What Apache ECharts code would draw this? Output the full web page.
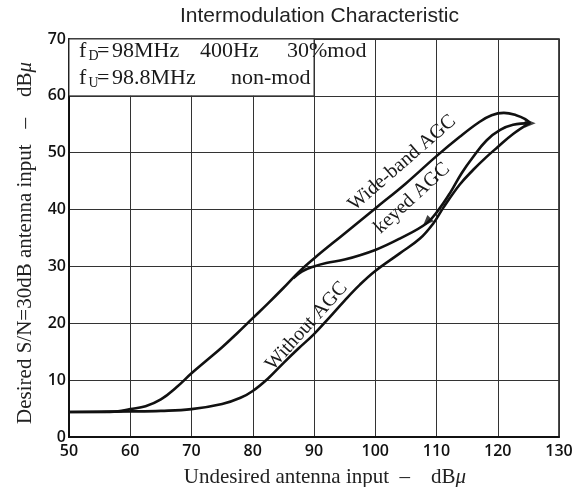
<!DOCTYPE html>
<html><head><meta charset="utf-8">
<script src="https://cdn.jsdelivr.net/npm/echarts@6/dist/echarts.min.js"></script>
<style>html,body{margin:0;padding:0;background:#fff}#c{width:578px;height:487px}</style>
</head><body><div id="c"></div>
<script>
// ---- data ----
const xMin = 50, xMax = 130, xStep = 10;
const yMin = 0, yMax = 70, yStep = 10;

const wideBand = [
  [50, 4.4], [55, 4.4], [58, 4.5], [60, 4.9], [62.5, 5.4], [65, 6.6], [67.5, 8.7],
  [70, 11.2], [72.5, 13.5], [75, 15.8], [77.5, 18.3], [80, 20.9], [82.5, 23.5],
  [85, 26.2], [87.5, 29.0], [90, 31.4], [95, 35.8], [100, 40.2], [105, 44.6],
  [110, 49.4], [113.8, 52.8], [117, 55.4], [119, 56.6], [121, 57.0], [123, 56.6],
  [124.5, 55.9], [125.3, 55.2]
];
const keyedAGC = [
  [86.6, 27.9], [88, 29.1], [90, 30.0], [92, 30.6], [95, 31.2], [100, 32.9],
  [104, 34.9], [108.4, 37.6], [110.3, 39.9], [112.2, 42.9], [114.1, 46.4],
  [116, 49.3], [118.2, 52.2], [120.4, 54.0], [122.5, 54.9], [125.3, 55.2]
];
const withoutAGC = [
  [50, 4.4], [60, 4.5], [65, 4.6], [70, 4.9], [75, 5.8], [78, 6.9], [80, 8.1],
  [82.5, 10.3], [85, 13.0], [87.5, 15.6], [90, 18.1], [92.5, 21.0], [95, 24.0],
  [97.5, 26.8], [100, 29.2], [104, 32.3], [107.3, 34.9], [109.5, 37.6], [111.1, 40.3],
  [113.8, 44.4], [116, 47.0], [118, 49.1], [120, 51.0], [122.5, 53.3], [125.3, 55.3]
];
const markerPoints = [[125.3, 55.2], [108.4, 37.8]];
const markerAngles = [-90, 135];

const titleText = 'Intermodulation Characteristic';
const xName = 'Undesired antenna input  \u2013    dB';
const yName = 'Desired S/N=30dB antenna input   \u2013    dB';
const condLine1 = ['f', 'D', '=', '98MHz', '400Hz', '30%mod'];
const condLine2 = ['f', 'U', '=', '98.8MHz', 'non-mod'];
const curveNames = ['Wide-band AGC', 'keyed AGC', 'Without AGC'];

// ---- chart ----
const chart = echarts.init(document.getElementById('c'), null, {renderer: 'canvas'});
const serif = '"Liberation Serif", "DejaVu Serif", serif';
const sans = '"Liberation Sans", Arial, sans-serif';
const ink = '#111';
const lineStyle = {color: ink, width: 2.6};
const smoothness = 0.4;

chart.setOption({
  animation: false,
  backgroundColor: '#fff',
  title: {
    text: titleText, left: 180, top: 6, padding: 0,
    textStyle: {fontFamily: sans, fontSize: 21, fontWeight: 'normal', color: '#222'}
  },
  grid: {left: 69, right: 19, top: 39, bottom: 50, show: true, containLabel: false,
         outerBoundsMode: 'none',
         borderColor: ink, borderWidth: 1.5, backgroundColor: 'transparent'},
  xAxis: {
    type: 'value', min: xMin, max: xMax, interval: xStep,
    name: xName, nameLocation: 'middle', nameGap: 30,
    nameTextStyle: {fontFamily: serif, fontSize: 21, color: '#222', padding: [0, 0, 0, 22]},
    axisLine: {lineStyle: {color: ink, width: 2}},
    axisTick: {show: false},
    axisLabel: {margin: 6, fontFamily: '"Open Sans", sans-serif', fontWeight: 600, fontSize: 16, color: ink},
    splitLine: {show: true, lineStyle: {color: '#333', width: 1}}
  },
  yAxis: {
    type: 'value', min: yMin, max: yMax, interval: yStep,
    name: yName, nameLocation: 'middle', nameGap: 33,
    nameTextStyle: {fontFamily: serif, fontSize: 21, color: '#222', padding: [0, 10, 0, 0]},
    axisLine: {lineStyle: {color: ink, width: 2}},
    axisTick: {show: false},
    axisLabel: {margin: 3, fontFamily: '"Open Sans", sans-serif', fontWeight: 600, fontSize: 16, color: ink},
    splitLine: {show: true, lineStyle: {color: '#333', width: 1}}
  },
  series: [
    {
      type: 'line', name: curveNames[2], data: withoutAGC, smooth: smoothness, showSymbol: false,
      symbol: 'none', lineStyle: lineStyle, z: 3,
      markArea: {
        silent: true,
        itemStyle: {color: '#fff', borderColor: '#333', borderWidth: 1},
        data: [[{coord: [xMin, 60]}, {coord: [90, yMax]}]]
      }
    },
    {type: 'line', name: curveNames[0], data: wideBand, smooth: smoothness, symbol: 'none', lineStyle: lineStyle, z: 3},
    {type: 'line', name: curveNames[1], data: keyedAGC, smooth: smoothness, symbol: 'none', lineStyle: lineStyle, z: 3},
    {
      type: 'scatter', data: markerPoints.map((p, i) => ({value: p, symbolRotate: markerAngles[i]})),
      symbol: 'triangle', symbolSize: [9, 11], itemStyle: {color: ink}, z: 4
    }
  ]
});

// annotations
function px(x, y) { return chart.convertToPixel({gridIndex: 0}, [x, y]); }
const g = [];
const condStyle = {fontFamily: serif, fontSize: 22, fill: '#1a1a1a'};
const xs1 = [79, 88.5, 97, 112, 200, 287];
condLine1.forEach((t, i) => {
  const sub = i === 1;
  g.push({type: 'text', x: xs1[i], y: sub ? 56 : 51, z: 100,
    style: Object.assign({}, condStyle, {text: t, fontSize: sub ? 14 : 22, verticalAlign: 'middle'})});
});
const xs2 = [79, 88.5, 97, 112, 231];
condLine2.forEach((t, i) => {
  const sub = i === 1;
  g.push({type: 'text', x: xs2[i], y: sub ? 83.5 : 78.5, z: 100,
    style: Object.assign({}, condStyle, {text: t, fontSize: sub ? 14 : 22, verticalAlign: 'middle'})});
});
const labelAnchors = [[104.4, 48.2, 41], [106.0, 42.0, 42.5], [88.8, 19.5, 48]];
labelAnchors.forEach((a, i) => {
  const p = px(a[0], a[1]);
  g.push({type: 'text', x: p[0], y: p[1], rotation: a[2] * Math.PI / 180, z: 100,
    style: {text: curveNames[i], fontFamily: serif, fontSize: 20, fill: '#1a1a1a',
            align: 'center', verticalAlign: 'middle'}});
});
// italic mu for axis names
chart.setOption({
  graphic: g,
  xAxis: {name: xName + '{i|\u03bc}', nameTextStyle: {rich: {i: {fontFamily: serif, fontStyle: 'italic', fontSize: 21, color: '#222'}}}},
  yAxis: {name: yName + '{i|\u03bc}', nameTextStyle: {rich: {i: {fontFamily: serif, fontStyle: 'italic', fontSize: 21, color: '#222'}}}}
});
</script>
</body></html>
